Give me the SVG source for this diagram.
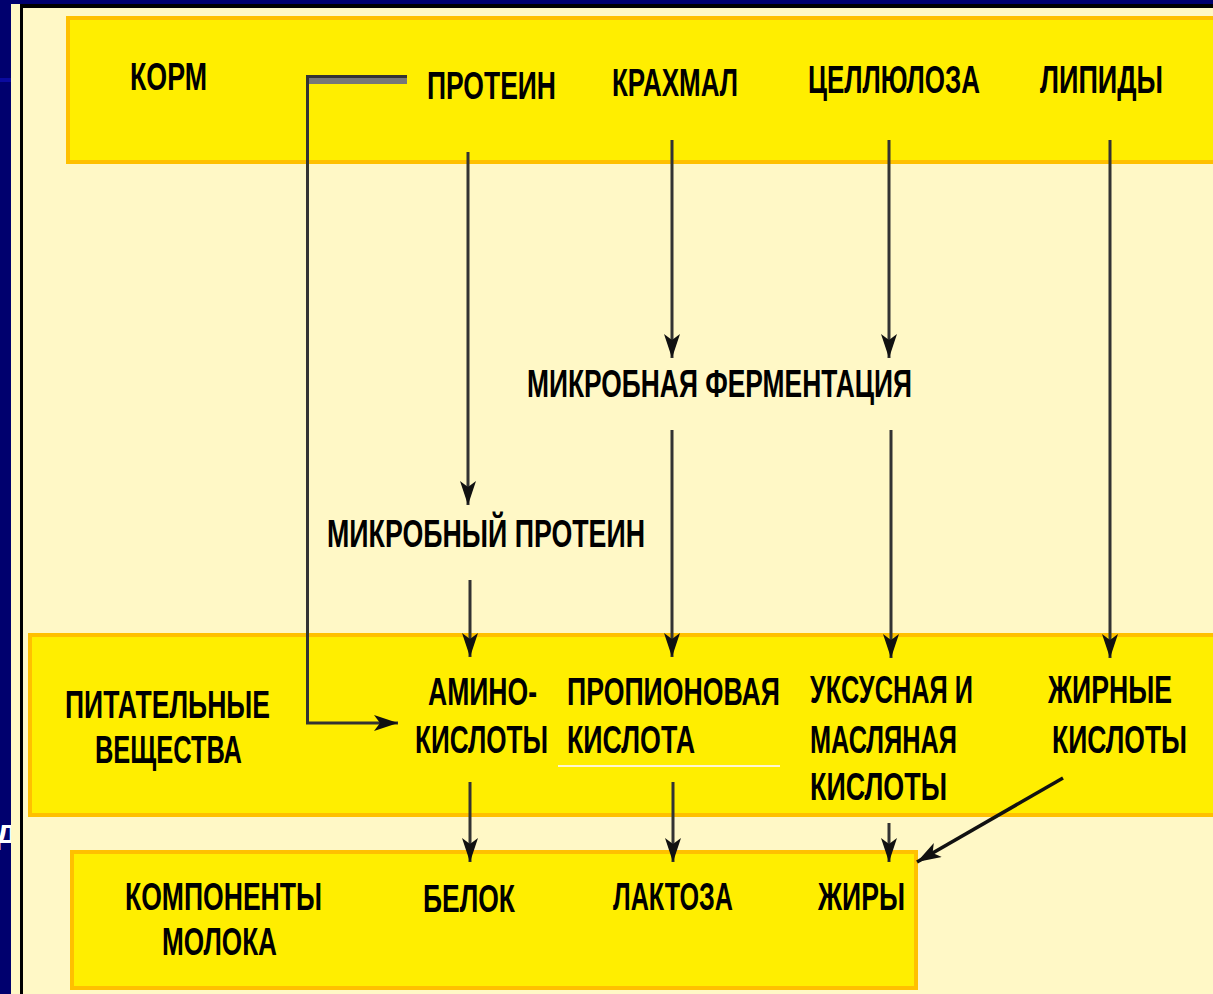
<svg xmlns="http://www.w3.org/2000/svg" width="1213" height="994" viewBox="0 0 1213 994">
<style>
.t{font-family:"Liberation Sans Narrow","Liberation Sans",Arial,sans-serif;font-weight:bold;font-size:38px;fill:#000}
.box{fill:#FFEE00;stroke:#FFC000;stroke-width:4}
.ln{stroke:#333;stroke-width:3;fill:none}
</style>
<defs>
<marker id="ah" viewBox="0 0 24 16" refX="24" refY="8" markerWidth="24" markerHeight="16" markerUnits="userSpaceOnUse" orient="auto">
<path d="M0,0 L24,8 L0,16 L6,8 z" fill="#111"/>
</marker>
</defs>
<rect x="0" y="0" width="1213" height="994" fill="#00006E"/>
<rect x="0" y="78" width="11" height="4" fill="#0A0AA0"/>
<text x="-4" y="843" font-family="Liberation Sans,Arial,sans-serif" font-weight="bold" font-size="34" fill="#fff">д</text>
<rect x="11" y="4" width="1202" height="990" fill="#FFF8C6"/>
<rect x="20" y="4" width="1193" height="4" fill="#000"/>
<rect x="20" y="4" width="3" height="990" fill="#000"/>

<g id="feed">
<rect class="box" x="68" y="18" width="1150" height="144"/>
<text class="t" x="130" y="90" textLength="77" lengthAdjust="spacingAndGlyphs">КОРМ</text>
<text class="t" x="427" y="99" textLength="129" lengthAdjust="spacingAndGlyphs">ПРОТЕИН</text>
<text class="t" x="612" y="96" textLength="126" lengthAdjust="spacingAndGlyphs">КРАХМАЛ</text>
<text class="t" x="808" y="93" textLength="172" lengthAdjust="spacingAndGlyphs">ЦЕЛЛЮЛОЗА</text>
<text class="t" x="1040" y="93" textLength="123" lengthAdjust="spacingAndGlyphs">ЛИПИДЫ</text>
</g>

<g id="nutrients">
<rect class="box" x="30" y="635" width="1190" height="180"/>
<text class="t" x="65" y="718" textLength="205" lengthAdjust="spacingAndGlyphs">ПИТАТЕЛЬНЫЕ</text>
<text class="t" x="95" y="763" textLength="147" lengthAdjust="spacingAndGlyphs">ВЕЩЕСТВА</text>
<text class="t" x="428" y="705" textLength="109" lengthAdjust="spacingAndGlyphs">АМИНО-</text>
<text class="t" x="415" y="753" textLength="133" lengthAdjust="spacingAndGlyphs">КИСЛОТЫ</text>
<text class="t" x="567" y="705" textLength="213" lengthAdjust="spacingAndGlyphs">ПРОПИОНОВАЯ</text>
<text class="t" x="567" y="753" textLength="128" lengthAdjust="spacingAndGlyphs">КИСЛОТА</text>
<text class="t" x="810" y="703" textLength="163" lengthAdjust="spacingAndGlyphs">УКСУСНАЯ И</text>
<text class="t" x="810" y="753" textLength="147" lengthAdjust="spacingAndGlyphs">МАСЛЯНАЯ</text>
<text class="t" x="810" y="800" textLength="137" lengthAdjust="spacingAndGlyphs">КИСЛОТЫ</text>
<text class="t" x="1048" y="703" textLength="124" lengthAdjust="spacingAndGlyphs">ЖИРНЫЕ</text>
<text class="t" x="1052" y="753" textLength="135" lengthAdjust="spacingAndGlyphs">КИСЛОТЫ</text>
<line x1="558" y1="766" x2="780" y2="766" stroke="#FFF6D0" stroke-width="2"/>
</g>

<g id="milk">
<rect class="box" x="72" y="852" width="844" height="136"/>
<text class="t" x="125" y="910" textLength="197" lengthAdjust="spacingAndGlyphs">КОМПОНЕНТЫ</text>
<text class="t" x="162" y="955" textLength="115" lengthAdjust="spacingAndGlyphs">МОЛОКА</text>
<text class="t" x="423" y="912" textLength="92" lengthAdjust="spacingAndGlyphs">БЕЛОК</text>
<text class="t" x="613" y="910" textLength="120" lengthAdjust="spacingAndGlyphs">ЛАКТОЗА</text>
<text class="t" x="818" y="910" textLength="87" lengthAdjust="spacingAndGlyphs">ЖИРЫ</text>
</g>

<g id="fermentation">
<text class="t" x="527" y="397" textLength="385" lengthAdjust="spacingAndGlyphs">МИКРОБНАЯ ФЕРМЕНТАЦИЯ</text>
</g>

<g id="microbial-protein">
<text class="t" x="327" y="547" textLength="318" lengthAdjust="spacingAndGlyphs">МИКРОБНЫЙ ПРОТЕИН</text>
</g>

<g id="connectors">
<rect x="307" y="78" width="100" height="6" fill="#777"/>
<polyline class="ln" points="407,76.5 307.5,76.5 307.5,723 398,723" marker-end="url(#ah)"/>
<line class="ln" x1="468" y1="152" x2="468" y2="505" marker-end="url(#ah)"/>
<line class="ln" x1="470" y1="580" x2="470" y2="657" marker-end="url(#ah)"/>
<line class="ln" x1="672" y1="140" x2="672" y2="358" marker-end="url(#ah)"/>
<line class="ln" x1="672" y1="430" x2="672" y2="657" marker-end="url(#ah)"/>
<line class="ln" x1="889" y1="140" x2="889" y2="358" marker-end="url(#ah)"/>
<line class="ln" x1="891" y1="430" x2="891" y2="658" marker-end="url(#ah)"/>
<line class="ln" x1="1110" y1="140" x2="1110" y2="658" marker-end="url(#ah)"/>
<line class="ln" x1="470" y1="782" x2="470" y2="862" marker-end="url(#ah)"/>
<line class="ln" x1="673" y1="782" x2="673" y2="862" marker-end="url(#ah)"/>
<line class="ln" x1="889" y1="823" x2="889" y2="862" marker-end="url(#ah)"/>
<line x1="1063" y1="778" x2="917" y2="862" stroke="#111" stroke-width="3.5" marker-end="url(#ah)"/>
</g>
</svg>
